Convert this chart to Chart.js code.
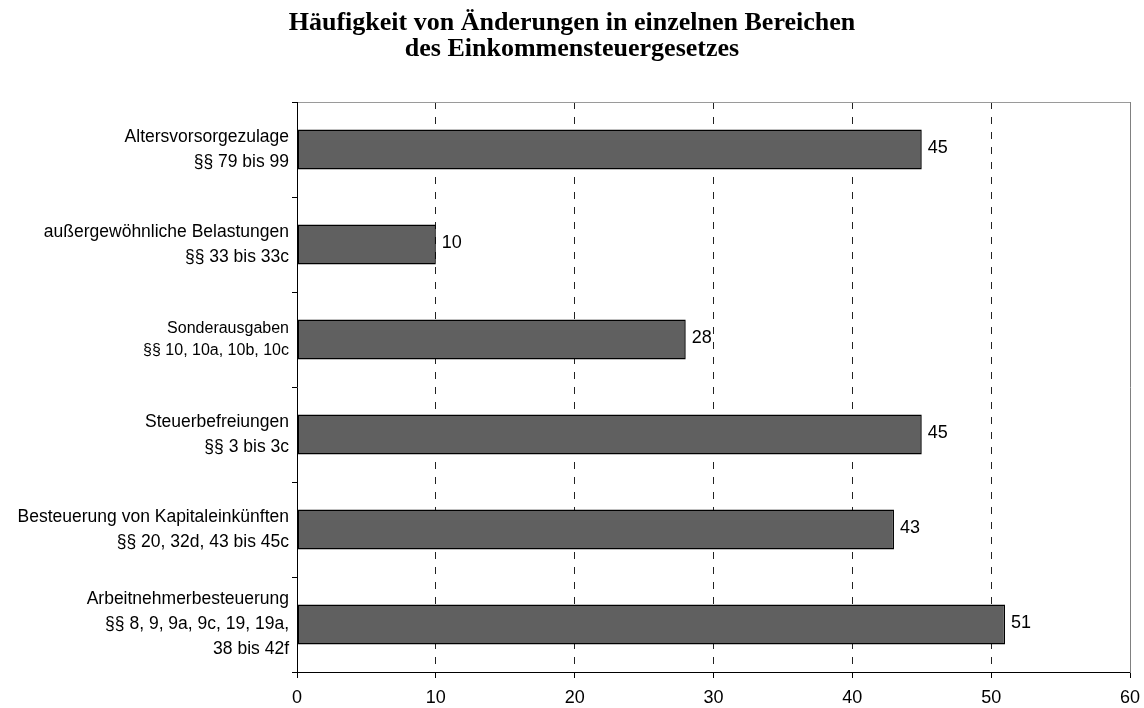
<!DOCTYPE html>
<html>
<head>
<meta charset="utf-8">
<script src="https://cdn.jsdelivr.net/npm/chart.js@4/dist/chart.umd.min.js"></script>
<style>
  html, body { margin: 0; padding: 0; background: #fff; }
  #wrap { position: relative; width: 1144px; height: 708px; }
</style>
</head>
<body>
<div id="wrap"><canvas id="myChart"></canvas></div>
<script>
// data
const categories = [
    ['Altersvorsorgezulage', '§§ 79 bis 99'],
    ['außergewöhnliche Belastungen', '§§ 33 bis 33c'],
    ['Sonderausgaben', '§§ 10, 10a, 10b, 10c'],
    ['Steuerbefreiungen', '§§ 3 bis 3c'],
    ['Besteuerung von Kapitaleinkünften', '§§ 20, 32d, 43 bis 45c'],
    ['Arbeitnehmerbesteuerung', '§§ 8, 9, 9a, 9c, 19, 19a,', '38 bis 42f']
];
const counts = [45, 10, 28, 45, 43, 51];
const xTickMin = 0;
const xTickMax = 60;
const xTickStep = 10;
const titleLines = ['Häufigkeit von Änderungen in einzelnen Bereichen', 'des Einkommensteuergesetzes'];

const sansFont = '"Liberation Sans", Arial, sans-serif';

// value labels at the end of each bar
const barValues = {
    id: 'barValues',
    afterDatasetsDraw: function (chart) {
        const ctx = chart.ctx;
        const meta = chart.getDatasetMeta(0);
        ctx.save();
        ctx.font = '18px ' + sansFont;
        ctx.fillStyle = '#000';
        ctx.textAlign = 'left';
        ctx.textBaseline = 'middle';
        meta.data.forEach(function (bar, i) {
            ctx.fillText(String(chart.data.datasets[0].data[i]), bar.x + 6, bar.y - 1);
        });
        ctx.restore();
    }
};

const ctx = document.getElementById('myChart');
const myBarChart = new Chart(ctx, {
    type: 'bar',
    data: {
        labels: categories,
        datasets: [{
            data: counts,
            backgroundColor: '#606060',
            borderColor: '#000',
            borderWidth: 1.5,
            borderSkipped: false,
            categoryPercentage: 1,
            barPercentage: 0.42
        }]
    },
    options: {
        indexAxis: 'y',
        responsive: true,
        maintainAspectRatio: false,
        animation: false,
        layout: {padding: {left: 0, right: 0, top: 0, bottom: 0}},
        plugins: {
            legend: {display: false},
            tooltip: {enabled: false},
            title: {
                display: true,
                text: titleLines,
                color: '#000',
                font: {family: '"Liberation Serif", "Times New Roman", serif', size: 26, weight: 'bold', lineHeight: 1.0},
                padding: {top: 10, bottom: 40}
            }
        },
        scales: {
            x: {
                min: xTickMin,
                max: xTickMax,
                afterFit: function (scale) {
                    scale.height = 36;
                    scale.paddingRight = 14;
                },
                ticks: {
                    stepSize: xTickStep,
                    color: '#000',
                    padding: 9,
                    font: {family: sansFont, size: 18, lineHeight: 1.2}
                },
                grid: {
                    color: function (c) {
                        // axis line covers 0, right border covers 60
                        if (c.tick && (c.tick.value === xTickMin || c.tick.value === xTickMax)) return 'rgba(0,0,0,0)';
                        return '#222';
                    },
                    tickColor: '#000',
                    tickLength: 6,
                    lineWidth: 1
                },
                border: {display: true, color: '#000', width: 1, dash: [7, 8]}
            },
            xTop: {
                type: 'linear',
                position: 'top',
                min: 0,
                max: 1,
                afterFit: function (scale) {
                    scale.height = 0;
                },
                ticks: {display: false},
                grid: {display: false},
                border: {display: true, color: '#9a9a9a', width: 1}
            },
            y: {
                afterFit: function (scale) {
                    scale.width = 297;
                },
                ticks: {
                    color: '#000',
                    padding: 3,
                    font: function (c) {
                        if (c.index === 2) return {family: sansFont, size: 16, lineHeight: 1.35};
                        return {family: sansFont, size: 17.5, lineHeight: 1.42};
                    }
                },
                grid: {
                    drawOnChartArea: false,
                    offset: true,
                    tickColor: '#000',
                    tickLength: 5
                },
                border: {display: true, color: '#000', width: 1}
            },
            yRight: {
                type: 'linear',
                position: 'right',
                min: 0,
                max: 1,
                afterFit: function (scale) {
                    scale.width = 0;
                },
                ticks: {display: false},
                grid: {display: false},
                border: {display: true, color: '#808080', width: 1}
            }
        }
    },
    plugins: [barValues]
});
</script>
</body>
</html>
